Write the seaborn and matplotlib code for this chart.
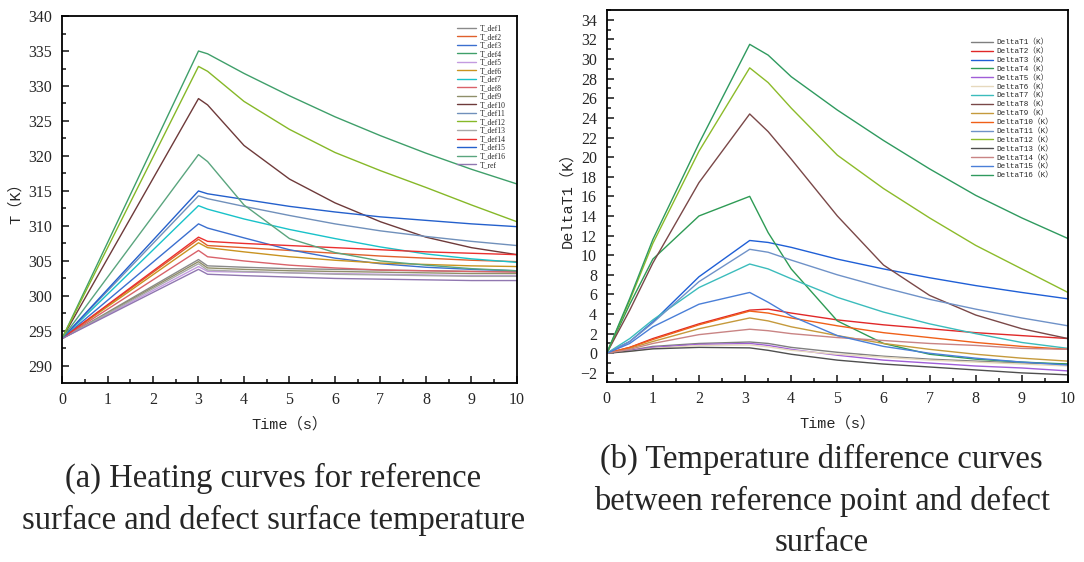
import pandas as pd
import matplotlib
matplotlib.use("Agg")
import matplotlib.pyplot as plt
import seaborn as sns
from matplotlib.ticker import MultipleLocator

# --- data (left: surface temperature, right: delta T) ---
TIME_A = [0, 3, 3.2, 4, 5, 6, 7, 8, 9, 10]

T_DEF1 = [293.9, 305.2, 304.3, 304.1, 303.9, 303.8, 303.7, 303.6, 303.5, 303.5]
T_DEF2 = [293.9, 308.1, 307.2, 306.9, 306.5, 306.1, 305.7, 305.4, 305.1, 304.9]
T_DEF3 = [293.9, 310.3, 309.7, 308.3, 306.6, 305.4, 304.6, 304.1, 303.8, 303.6]
T_DEF4 = [293.9, 335.0, 334.6, 331.8, 328.6, 325.6, 322.9, 320.4, 318.1, 316.0]
T_DEF5 = [293.9, 304.2, 303.5, 303.4, 303.3, 303.2, 303.1, 303.0, 302.9, 302.9]
T_DEF6 = [293.9, 307.6, 306.9, 306.3, 305.6, 305.1, 304.7, 304.5, 304.3, 304.2]
T_DEF7 = [293.9, 312.9, 312.4, 311.0, 309.5, 308.2, 307.0, 306.0, 305.3, 304.8]
T_DEF8 = [293.9, 306.5, 305.6, 305.0, 304.4, 304.0, 303.7, 303.6, 303.5, 303.4]
T_DEF9 = [293.9, 304.9, 304.0, 303.8, 303.6, 303.5, 303.4, 303.3, 303.2, 303.2]
T_DEF10 = [293.9, 328.2, 327.3, 321.5, 316.7, 313.3, 310.6, 308.4, 306.9, 305.9]
T_DEF11 = [293.9, 314.3, 313.9, 312.8, 311.5, 310.3, 309.3, 308.5, 307.8, 307.2]
T_DEF12 = [293.9, 332.8, 332.1, 327.8, 323.8, 320.5, 317.9, 315.5, 313.0, 310.6]
T_DEF13 = [293.9, 304.6, 303.7, 303.5, 303.3, 303.1, 303.0, 302.9, 302.8, 302.8]
T_DEF14 = [293.9, 308.4, 307.8, 307.5, 307.2, 306.9, 306.6, 306.3, 306.1, 305.9]
T_DEF15 = [293.9, 315.0, 314.6, 313.8, 312.8, 312.0, 311.3, 310.8, 310.3, 309.9]
T_DEF16 = [293.9, 320.2, 319.2, 313.0, 308.2, 306.2, 305.0, 304.4, 303.9, 303.6]
T_REF = [293.9, 303.8, 303.1, 302.9, 302.7, 302.5, 302.4, 302.3, 302.2, 302.2]

TIME_B = [0, 0.5, 1, 2, 3.1, 3.5, 4, 5, 6, 7, 8, 9, 10]

DT1 = [0, 0.3, 0.7, 1.0, 1.15, 1.0, 0.6, 0.1, -0.3, -0.6, -0.8, -1.0, -1.1]
DT2 = [0, 0.6, 1.5, 3.0, 4.4, 4.5, 4.1, 3.4, 2.9, 2.5, 2.1, 1.8, 1.5]
DT3 = [0, 1.2, 3.2, 7.8, 11.5, 11.3, 10.8, 9.6, 8.6, 7.7, 6.9, 6.2, 5.55]
DT4 = [0, 5.0, 9.6, 14.0, 16.0, 12.3, 8.6, 3.3, 1.0, -0.1, -0.6, -0.9, -1.1]
DT5 = [0, 0.25, 0.6, 0.9, 1.0, 0.8, 0.4, -0.2, -0.7, -1.0, -1.3, -1.5, -1.8]
DT6 = [0, 0.2, 0.5, 0.8, 0.85, 0.65, 0.3, -0.1, -0.4, -0.7, -0.9, -1.1, -1.3]
DT7 = [0, 1.5, 3.4, 6.7, 9.1, 8.6, 7.6, 5.7, 4.2, 3.0, 2.0, 1.1, 0.5]
DT8 = [0, 4.4, 9.2, 17.4, 24.4, 22.6, 19.8, 14.0, 9.0, 5.9, 3.9, 2.5, 1.5]
DT9 = [0, 0.5, 1.2, 2.5, 3.6, 3.3, 2.7, 1.8, 1.0, 0.4, -0.1, -0.5, -0.8]
DT10 = [0, 0.6, 1.4, 2.9, 4.3, 4.1, 3.6, 2.8, 2.1, 1.6, 1.1, 0.7, 0.4]
DT11 = [0, 1.2, 3.1, 7.3, 10.6, 10.3, 9.5, 8.0, 6.7, 5.5, 4.5, 3.6, 2.8]
DT12 = [0, 5.4, 11.2, 20.6, 29.1, 27.6, 25.0, 20.2, 16.8, 13.8, 11.0, 8.6, 6.2]
DT13 = [0, 0.2, 0.45, 0.6, 0.55, 0.3, -0.1, -0.7, -1.1, -1.4, -1.7, -2.0, -2.2]
DT14 = [0, 0.4, 1.0, 1.9, 2.45, 2.3, 2.0, 1.6, 1.3, 1.0, 0.8, 0.5, 0.4]
DT15 = [0, 1.0, 2.7, 5.0, 6.2, 5.2, 3.8, 1.8, 0.7, 0.0, -0.5, -0.9, -1.2]
DT16 = [0, 5.6, 11.6, 21.4, 31.5, 30.4, 28.2, 24.8, 21.7, 18.8, 16.1, 13.8, 11.7]

LEFT_NAMES = ["T_def1", "T_def2", "T_def3", "T_def4", "T_def5", "T_def6", "T_def7",
              "T_def8", "T_def9", "T_def10", "T_def11", "T_def12", "T_def13",
              "T_def14", "T_def15", "T_def16", "T_ref"]
LEFT_SERIES = [T_DEF1, T_DEF2, T_DEF3, T_DEF4, T_DEF5, T_DEF6, T_DEF7, T_DEF8, T_DEF9,
               T_DEF10, T_DEF11, T_DEF12, T_DEF13, T_DEF14, T_DEF15, T_DEF16, T_REF]
LEFT_COLORS = ["#8a8a8a", "#e0602c", "#3b6fcf", "#3f9f6a", "#c39be0", "#c99320", "#19c2c9",
               "#d9626a", "#8f8f6a", "#6e3a3a", "#7090bb", "#86b828", "#a8a8a8",
               "#ea2f2f", "#2460cc", "#5aa57e", "#9077b0"]

RIGHT_NAMES = [f"DeltaT{i}（K）" for i in range(1, 17)]
RIGHT_SERIES = [DT1, DT2, DT3, DT4, DT5, DT6, DT7, DT8, DT9, DT10, DT11, DT12,
                DT13, DT14, DT15, DT16]
RIGHT_COLORS = ["#7f7f7f", "#e02828", "#1f5fd6", "#2e9b55", "#a05ed8", "#e6d9bd",
                "#3bbcbc", "#7a4848", "#c59a3c", "#f06018", "#6f92c8", "#8cbb2a",
                "#4f4f4f", "#c98484", "#4a7fd8", "#2f9a5f"]

MONO = ["Liberation Mono", "Noto Sans CJK SC"]
SERIF = "Liberation Serif"

sns.set_style("ticks")
plt.rcParams["font.family"] = ["Liberation Serif", "Noto Sans CJK SC"]


def long_frame(times, names, series, col):
    parts = [pd.DataFrame({"time": times, col: vals, "curve": name})
             for name, vals in zip(names, series)]
    return pd.concat(parts, ignore_index=True)


def style_axis(ax, xlab, ylab, ymajor, yminor):
    ax.set_xlim(0, 10)
    ax.xaxis.set_major_locator(MultipleLocator(1))
    ax.xaxis.set_minor_locator(MultipleLocator(0.5))
    ax.yaxis.set_major_locator(MultipleLocator(ymajor))
    ax.yaxis.set_minor_locator(MultipleLocator(yminor))
    ax.tick_params(which="both", direction="in", top=False, right=False, width=1.2)
    ax.tick_params(which="major", length=5, labelsize=11.5, pad=7)
    ax.tick_params(which="minor", length=3)
    for lab in ax.get_xticklabels() + ax.get_yticklabels():
        lab.set_family(SERIF)
    for sp in ax.spines.values():
        sp.set_visible(True)
        sp.set_linewidth(1.3)
        sp.set_color("black")
    ax.set_xlabel(xlab, family=MONO, fontsize=11, labelpad=6)
    ax.set_ylabel(ylab, family=MONO, fontsize=11, labelpad=4)


fig = plt.figure(figsize=(10.84, 5.62), dpi=100)
ax1 = fig.add_axes([0.0572, 0.319, 0.4197, 0.6525])
ax2 = fig.add_axes([0.5597, 0.3208, 0.4255, 0.6614])

df_a = long_frame(TIME_A, LEFT_NAMES, LEFT_SERIES, "T")
sns.lineplot(data=df_a, x="time", y="T", hue="curve", hue_order=LEFT_NAMES,
             palette=dict(zip(LEFT_NAMES, LEFT_COLORS)), linewidth=1.0, ax=ax1)
ax1.set_ylim(287.6, 340)
style_axis(ax1, "Time（s）", "T（K）", 5, 2.5)
ax1.legend(loc="upper right", bbox_to_anchor=(0.985, 0.99), frameon=False,
           prop={"family": SERIF, "size": 5.5}, labelspacing=0.07,
           handlelength=2.4, handletextpad=0.5, borderaxespad=0.2)

df_b = long_frame(TIME_B, RIGHT_NAMES, RIGHT_SERIES, "dT")
sns.lineplot(data=df_b, x="time", y="dT", hue="curve", hue_order=RIGHT_NAMES,
             palette=dict(zip(RIGHT_NAMES, RIGHT_COLORS)), linewidth=1.0, ax=ax2)
ax2.set_ylim(-2.9, 35.0)
style_axis(ax2, "Time（s）", "DeltaT1（K）", 2, 1)
ax2.legend(loc="upper right", bbox_to_anchor=(0.975, 0.93), frameon=False,
           prop={"family": MONO, "size": 5.5}, labelspacing=0.2,
           handlelength=2.8, handletextpad=0.5, borderaxespad=0.0)

fig.text(0.252, 0.112, "(a) Heating curves for reference\nsurface and defect surface temperature",
         ha="center", va="center", family=SERIF, fontsize=23.5, linespacing=1.45)
fig.text(0.758, 0.108, "(b) Temperature difference curves\nbetween reference point and defect\nsurface",
         ha="center", va="center", family=SERIF, fontsize=23.5, linespacing=1.45)

fig.savefig("out.png", dpi=100)
